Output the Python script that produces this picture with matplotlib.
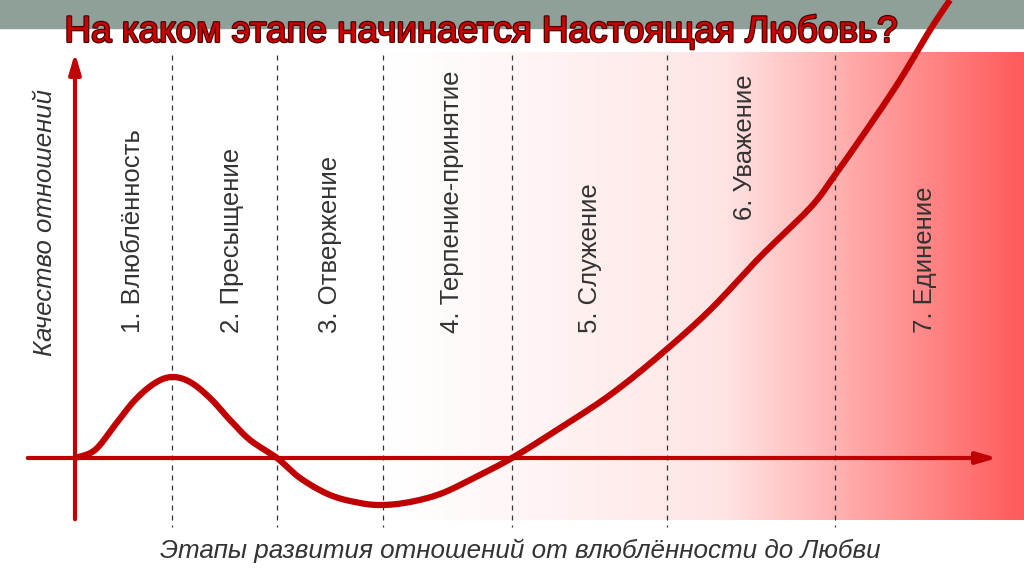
import matplotlib
matplotlib.use("Agg")
import matplotlib.pyplot as plt
import matplotlib.patheffects as pe
import numpy as np
from matplotlib.colors import LinearSegmentedColormap

title = "На каком этапе начинается Настоящая Любовь?"
ylabel = "Качество отношений"
xlabel = "Этапы развития отношений от влюблённости до Любви"
stages = ["1. Влюблённость", "2. Пресыщение", "3. Отвержение", "4. Терпение-принятие",
          "5. Служение", "6. Уважение", "7. Единение"]
boundaries = [75, 172, 277, 383, 512, 667, 835, 1024]
label_x = [133, 232, 330, 452, 590, 745, 925]
label_bottom = [333, 333, 333, 333, 333, 220, 333]
curve_x = [75, 95, 115, 135, 155, 172, 190, 210, 230, 250, 277, 300, 330, 360, 383, 410, 440,
           470, 512, 560, 610, 660, 710, 760, 810, 835, 870, 900, 930, 950]
curve_y = [458, 450, 425, 400, 383, 377, 382, 398, 420, 440, 458, 478, 495, 503, 505, 502, 494,
           480, 458, 428, 395, 355, 310, 257, 208, 175, 125, 80, 30, 0]


def catmull(xs, ys, n=12):
    P = np.array(list(zip(xs, ys)), float)
    P = np.vstack([P[0], P, P[-1]])
    out = []
    t = np.linspace(0, 1, n, endpoint=False)[:, None]
    for i in range(1, len(P) - 2):
        p0, p1, p2, p3 = P[i - 1], P[i], P[i + 1], P[i + 2]
        out.append(0.5 * ((2 * p1) + (-p0 + p2) * t + (2 * p0 - 5 * p1 + 4 * p2 - p3) * t ** 2
                          + (-p0 + 3 * p1 - 3 * p2 + p3) * t ** 3))
    out.append(P[-2][None, :])
    a = np.vstack(out)
    return a[:, 0], a[:, 1]


plt.rcParams['font.family'] = ['Liberation Sans', 'DejaVu Sans']
fig = plt.figure(figsize=(10.24, 5.74), dpi=100)
ax = fig.add_axes([0, 0, 1, 1])
ax.set_xlim(0, 1024); ax.set_ylim(574, 0); ax.axis('off')

ax.add_patch(plt.Rectangle((0, 0), 1024, 28, color='#8fa098', zorder=0))
cmap = LinearSegmentedColormap.from_list('g', ['#ffffff', '#ffe4e4', '#ff5a5a'])
grad = np.linspace(0, 1, 256).reshape(1, -1) ** 1.1
ax.imshow(grad, extent=(383, 1024, 520, 52), cmap=cmap, aspect='auto', zorder=0.5)

for b in boundaries[1:-1]:
    ax.plot([b, b], [55, 527], ls=(0, (4, 4)), color='#333333', lw=0.9, zorder=1)

for i, s in enumerate(stages):
    ax.text(label_x[i], label_bottom[i], s, rotation=90, ha='center', va='bottom', fontsize=18.5, color='#333333')

ax.annotate('', xy=(75, 50), xytext=(75, 522), arrowprops=dict(arrowstyle='-|>,head_length=1.2,head_width=0.35', color='#c00000', lw=3), zorder=2)
ax.annotate('', xy=(1000, 458), xytext=(25, 458), arrowprops=dict(arrowstyle='-|>,head_length=1.2,head_width=0.35', color='#c00000', lw=3), zorder=2)

sx, sy = catmull(curve_x, curve_y)
ax.plot(sx, sy, color='#c00000', lw=4.5, solid_capstyle='butt', zorder=3)

ax.text(45, 222, ylabel, rotation=90, ha='center', va='center', fontsize=18.5, style='italic', color='#333333')
ax.text(520, 551, xlabel, ha='center', va='center', fontsize=18.7, style='italic', color='#333333')
ax.text(480, 32, title, ha='center', va='center', fontsize=26.5, color='#cc0000',
        path_effects=[pe.withStroke(linewidth=1.8, foreground='#4a0000')], zorder=4)

fig.savefig('out.png', dpi=100)
